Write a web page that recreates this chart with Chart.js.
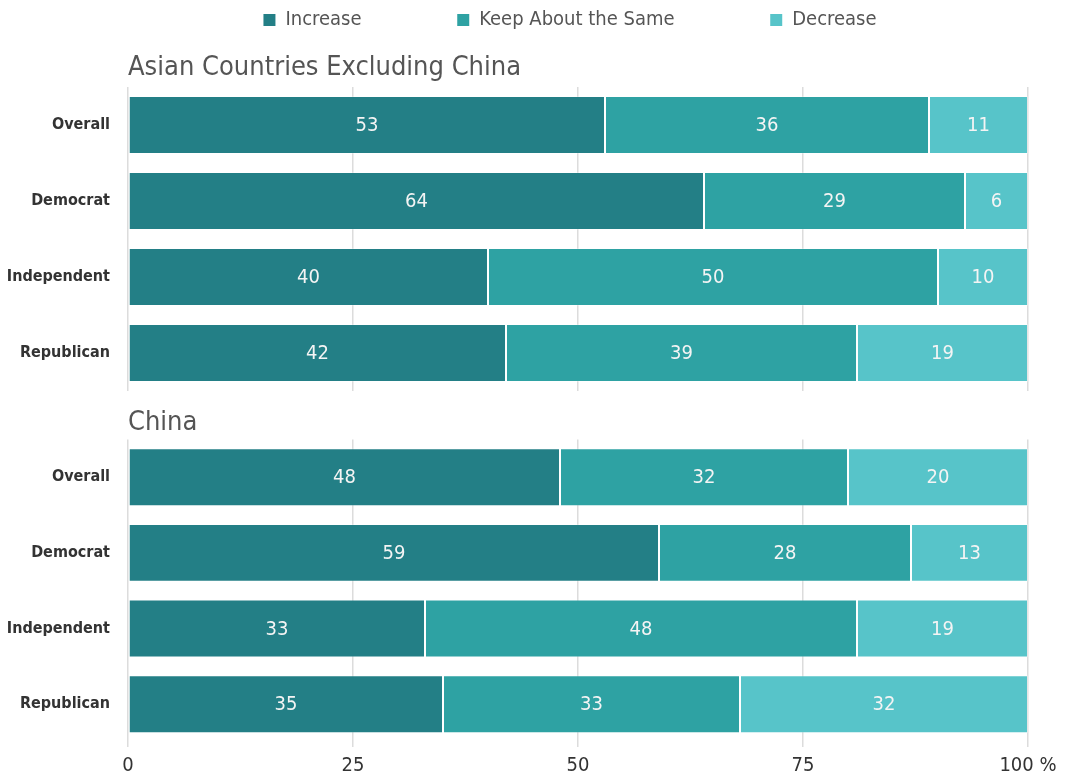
<!DOCTYPE html>
<html lang="en">
<head>
<meta charset="UTF-8">
<title>Trade with Asian countries and China</title>
<script src="https://cdn.jsdelivr.net/npm/chart.js"></script>
<style>
    body { margin: 0; padding: 0; background: #fff; overflow: hidden; }
    .wrap { position: relative; width: 1068px; height: 776px; overflow: hidden; }
    #box0 { position: absolute; left: 120px; top: 0; width: 900px; height: 90px; }
    #box1 { position: absolute; left: 0; top: 40px; width: 1068px; height: 351px; }
    #box2 { position: absolute; left: 0; top: 391px; width: 1068px; height: 394px; }
</style>
</head>
<body>
<div class="wrap">
    <div id="box1"><canvas id="asiaChart"></canvas></div>
    <div id="box2"><canvas id="chinaChart"></canvas></div>
    <div id="box0"><canvas id="legendChart"></canvas></div>
</div>
<script>
const FONT = "'Liberation Sans Narrow', 'DejaVu Sans Condensed', sans-serif";

const categories = ['Overall', 'Democrat', 'Independent', 'Republican'];
const seriesNames = ['Increase', 'Keep About the Same', 'Decrease'];
const seriesColors = ['#237f86', '#2ea2a3', '#57c4c9'];
const xTicks = [0, 25, 50, 75, 100];

const asiaIncrease = [53, 64, 40, 42];
const asiaSame = [36, 29, 50, 39];
const asiaDecrease = [11, 7, 10, 19];      // bar lengths as drawn
const asiaDecreaseShown = [11, 6, 10, 19]; // numbers printed on the bars

const chinaIncrease = [48, 59, 33, 35];
const chinaSame = [32, 28, 48, 33];
const chinaDecrease = [20, 13, 19, 32];

function makeDatasets(seriesList, shownList) {
    return seriesList.map((values, i) => ({
        label: seriesNames[i],
        data: values,
        shown: shownList ? shownList[i] : values,
        backgroundColor: seriesColors[i],
        borderColor: 'rgba(255,255,255,0.25)',
        borderWidth: 1,
        borderSkipped: false,
        barPercentage: 1,
        categoryPercentage: 0.766
    }));
}

// numbers in the middle of each segment
const valueLabels = {
    id: 'valueLabels',
    afterDatasetsDraw(chart) {
        const ctx = chart.ctx;
        ctx.save();
        ctx.font = '20px ' + FONT;
        ctx.fillStyle = '#f4f4f4';
        ctx.textAlign = 'center';
        ctx.textBaseline = 'middle';
        chart.data.datasets.forEach((ds, i) => {
            chart.getDatasetMeta(i).data.forEach((bar, j) => {
                ctx.fillText(ds.shown[j], (bar.x + bar.base) / 2, bar.y + 1);
            });
        });
        ctx.restore();
    }
};

function yScale() {
    return {
        stacked: true,
        grid: { display: false, drawTicks: false },
        border: { display: false },
        ticks: { color: '#333', font: { family: FONT, size: 16, weight: 'bold' }, padding: 18 },
        afterFit(scale) {
            scale.width = 128;
            scale.paddingTop = 0;
            scale.paddingBottom = 0;
        }
    };
}

function sectionTitle(text, top, bottom) {
    return {
        display: true,
        text: text,
        align: 'start',
        color: '#555',
        font: { family: FONT, size: 27 },
        padding: { top: top, bottom: bottom }
    };
}

const gridColor = '#dcdcdc';

// legend only, sits above the first panel
new Chart(document.getElementById('legendChart'), {
    type: 'bar',
    data: { labels: [], datasets: makeDatasets([[], [], []]) },
    options: {
        responsive: true,
        maintainAspectRatio: false,
        animation: false,
        scales: { x: { display: false }, y: { display: false } },
        plugins: {
            tooltip: { enabled: false },
            legend: {
                position: 'top',
                labels: {
                    color: '#555',
                    font: { family: FONT, size: 20 },
                    boxWidth: 12,
                    boxHeight: 12,
                    padding: 10,
                    generateLabels(chart) {
                        const items = Chart.defaults.plugins.legend.labels.generateLabels(chart);
                        const ctx = chart.ctx;
                        ctx.save();
                        ctx.font = '20px ' + FONT;
                        const sp = ctx.measureText(' ').width;
                        ctx.restore();
                        const n = Math.round(83 / sp);
                        items.forEach((it, i) => {
                            it.lineWidth = 0;
                            if (i < items.length - 1) it.text += ' '.repeat(n);
                        });
                        return items;
                    }
                }
            }
        }
    }
});

new Chart(document.getElementById('asiaChart'), {
    type: 'bar',
    data: { labels: categories, datasets: makeDatasets([asiaIncrease, asiaSame, asiaDecrease], [asiaIncrease, asiaSame, asiaDecreaseShown]) },
    options: {
        indexAxis: 'y',
        responsive: true,
        maintainAspectRatio: false,
        animation: false,
        layout: { padding: { left: 0, right: 40, top: 0, bottom: 0 } },
        scales: {
            x: {
                position: 'top',
                stacked: true,
                min: 0,
                max: 100,
                afterBuildTicks: s => { s.ticks = xTicks.map(v => ({ value: v })); },
                ticks: { display: false },
                grid: { color: gridColor, lineWidth: 1.5, drawTicks: false },
                border: { display: false },
                title: sectionTitle('Asian Countries Excluding China', 12, 2.6)
            },
            y: yScale()
        },
        plugins: {
            legend: { display: false },
            tooltip: { enabled: false }
        }
    },
    plugins: [valueLabels]
});

new Chart(document.getElementById('chinaChart'), {
    type: 'bar',
    data: { labels: categories, datasets: makeDatasets([chinaIncrease, chinaSame, chinaDecrease]) },
    options: {
        indexAxis: 'y',
        responsive: true,
        maintainAspectRatio: false,
        animation: false,
        layout: { padding: { left: 0, right: 40, top: 0, bottom: 0 } },
        scales: {
            x: {
                position: 'bottom',
                stacked: true,
                min: 0,
                max: 100,
                afterBuildTicks: s => { s.ticks = xTicks.map(v => ({ value: v })); },
                ticks: {
                    color: '#333',
                    font: { family: FONT, size: 20 },
                    padding: 7,
                    maxRotation: 0,
                    callback: v => v === 100 ? '100 %' : v
                },
                grid: { color: gridColor, lineWidth: 1.5, drawTicks: true, tickLength: 5 },
                border: { display: false }
            },
            x2: {
                type: 'linear',
                position: 'top',
                min: 0,
                max: 100,
                ticks: { display: false },
                grid: { display: false, drawTicks: false },
                border: { display: false },
                title: sectionTitle('China', 16, 0)
            },
            y: yScale()
        },
        plugins: {
            legend: { display: false },
            tooltip: { enabled: false }
        }
    },
    plugins: [valueLabels]
});
</script>
</body>
</html>
